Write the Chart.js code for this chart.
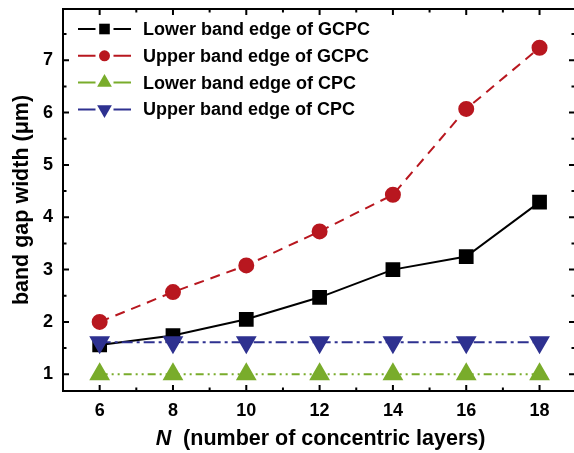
<!DOCTYPE html>
<html>
<head>
<meta charset="utf-8">
<script src="https://cdn.jsdelivr.net/npm/chart.js@4.4.1/dist/chart.umd.min.js"></script>
<style>
html, body { margin: 0; padding: 0; background: #fff; }
</style>
</head>
<body>
<canvas id="gapChart" width="574" height="453"></canvas>
<script>
// data
var layers = [6, 8, 10, 12, 14, 16, 18];
var lowerGCPC = [1.56, 1.74, 2.05, 2.47, 3.00, 3.25, 4.29];
var upperGCPC = [2.00, 2.57, 3.08, 3.73, 4.43, 6.07, 7.24];
var lowerCPC = [1.00, 1.00, 1.00, 1.00, 1.00, 1.00, 1.00];
var upperCPC = [1.61, 1.61, 1.61, 1.61, 1.61, 1.61, 1.61];
var seriesNames = ['Lower band edge of GCPC', 'Upper band edge of GCPC', 'Lower band edge of CPC', 'Upper band edge of CPC'];
var xTicks = [6, 8, 10, 12, 14, 16, 18];
var yTicks = [1, 2, 3, 4, 5, 6, 7];

var FONT = '"Liberation Sans", Arial, Helvetica, sans-serif';

function points(ys) {
    return layers.map(function(x, i) { return { x: x, y: ys[i] }; });
}

function minorValues(major, lo, hi) {
    var step = major[1] - major[0];
    var out = [];
    for (var v = major[0] - step / 2; v <= hi; v += step) {
        if (v >= lo) out.push(v);
    }
    return out;
}

var frameAndTicks = {
    id: 'frameAndTicks',
    beforeDatasetsDraw: function(chart) {
        var ctx = chart.ctx, a = chart.chartArea;
        var xs = chart.scales.x, ys = chart.scales.y;
        ctx.save();
        ctx.strokeStyle = '#000';
        ctx.lineWidth = 2;
        // frame: the right edge of the original is cut off by the image border
        ctx.beginPath();
        ctx.moveTo(a.right + 4, a.top);
        ctx.lineTo(a.left, a.top);
        ctx.lineTo(a.left, a.bottom);
        ctx.lineTo(a.right + 4, a.bottom);
        ctx.stroke();

        function tickX(v, len) {
            var px = xs.getPixelForValue(v);
            ctx.beginPath();
            ctx.moveTo(px, a.bottom); ctx.lineTo(px, a.bottom - len);
            ctx.moveTo(px, a.top); ctx.lineTo(px, a.top + len);
            ctx.stroke();
        }
        function tickY(v, len) {
            var py = ys.getPixelForValue(v);
            ctx.beginPath();
            ctx.moveTo(a.left, py); ctx.lineTo(a.left + len, py);
            ctx.moveTo(a.right + 1, py); ctx.lineTo(a.right + 1 - len, py);
            ctx.stroke();
        }
        xTicks.forEach(function(v) { tickX(v, 6); });
        minorValues(xTicks, xs.min + 0.1, xs.max - 0.1).forEach(function(v) { tickX(v, 3.5); });
        yTicks.forEach(function(v) { tickY(v, 6); });
        minorValues(yTicks, ys.min + 0.05, ys.max - 0.05).forEach(function(v) { tickY(v, 3.5); });

        // x axis title with italic N
        var cx = (a.left + a.right) / 2 + 2, ty = 439;
        var f1 = 'italic bold 21.5px ' + FONT, f2 = 'bold 21.5px ' + FONT;
        var rest = '  (number of concentric layers)';
        ctx.font = f1; var w1 = ctx.measureText('N').width;
        ctx.font = f2; var w2 = ctx.measureText(rest).width;
        var sx = cx - (w1 + w2) / 2;
        ctx.fillStyle = '#000';
        ctx.textBaseline = 'middle';
        ctx.textAlign = 'left';
        ctx.font = f1; ctx.fillText('N', sx, ty);
        ctx.font = f2; ctx.fillText(rest, sx + w1, ty);
        ctx.restore();
    },
    afterDatasetsDraw: function(chart) {
        // legend: line - marker - line, then text
        var ctx = chart.ctx;
        ctx.save();
        chart.data.datasets.forEach(function(ds, i) {
            var y = 29 + i * 26.8;
            var x0 = 78, x1 = 131, xm = 104.5;
            ctx.strokeStyle = ds.borderColor;
            ctx.lineWidth = 2;
            ctx.setLineDash([]);
            ctx.beginPath();
            ctx.moveTo(x0, y); ctx.lineTo(xm - 9, y);
            ctx.moveTo(xm + 9, y); ctx.lineTo(x1, y);
            ctx.stroke();
            ctx.fillStyle = ds.pointBackgroundColor;
            ctx.strokeStyle = ds.pointBackgroundColor;
            Chart.helpers.drawPoint(ctx, {
                pointStyle: ds.pointStyle,
                rotation: ds.pointRotation || 0,
                radius: ds.pointRadius - 1.5,
                borderWidth: 0
            }, xm, y);
            ctx.fillStyle = '#000';
            ctx.font = 'bold 18px ' + FONT;
            ctx.textBaseline = 'middle';
            ctx.fillText(ds.label, 143, y + 1);
        });
        ctx.restore();
    }
};

function noPadding(scale) {
    scale.paddingTop = 0;
    scale.paddingBottom = 0;
    scale.paddingLeft = 0;
    scale.paddingRight = 0;
}

var ctx = document.getElementById('gapChart').getContext('2d');
var gapChart = new Chart(ctx, {
    type: 'line',
    data: {
        datasets: [{
            label: seriesNames[0],
            data: points(lowerGCPC),
            borderColor: '#000000',
            pointBackgroundColor: '#000000',
            pointBorderColor: '#000000',
            borderWidth: 2,
            pointStyle: 'rect',
            pointRadius: 9,
            order: 4
        }, {
            label: seriesNames[1],
            data: points(upperGCPC),
            borderColor: '#b8171f',
            pointBackgroundColor: '#b8171f',
            pointBorderColor: '#b8171f',
            borderWidth: 2,
            borderDash: [10, 7],
            pointStyle: 'circle',
            pointRadius: 7,
            order: 3
        }, {
            label: seriesNames[2],
            data: points(lowerCPC),
            borderColor: '#79ac2b',
            pointBackgroundColor: '#79ac2b',
            pointBorderColor: '#79ac2b',
            borderWidth: 2,
            borderDash: [8, 4, 2, 4, 2, 4],
            pointStyle: 'triangle',
            pointRadius: 10,
            order: 2
        }, {
            label: seriesNames[3],
            data: points(upperCPC),
            borderColor: '#2e3190',
            pointBackgroundColor: '#2e3190',
            pointBorderColor: '#2e3190',
            borderWidth: 2,
            borderDash: [11, 4, 3, 4],
            pointStyle: 'triangle',
            pointRotation: 180,
            pointRadius: 10,
            order: 1
        }]
    },
    options: {
        responsive: false,
        animation: false,
        layout: { autoPadding: false, padding: { top: 9, right: 0, left: 0, bottom: 0 } },
        plugins: {
            legend: { display: false },
            tooltip: { enabled: false }
        },
        elements: {
            line: { tension: 0 },
            point: { borderWidth: 0 }
        },
        scales: {
            x: {
                type: 'linear',
                min: 5,
                max: 18.94,
                afterBuildTicks: function(scale) {
                    scale.ticks = xTicks.map(function(v) { return { value: v }; });
                },
                afterFit: function(scale) { scale.height = 62; noPadding(scale); },
                grid: { display: false, drawTicks: false },
                border: { display: false },
                ticks: {
                    padding: 9,
                    color: '#000',
                    font: { family: FONT, size: 18, weight: 'bold' }
                }
            },
            y: {
                type: 'linear',
                min: 0.68,
                max: 7.98,
                afterBuildTicks: function(scale) {
                    scale.ticks = yTicks.map(function(v) { return { value: v }; });
                },
                afterFit: function(scale) { scale.width = 63; noPadding(scale); },
                grid: { display: false, drawTicks: false },
                border: { display: false },
                ticks: {
                    padding: 10,
                    color: '#000',
                    font: { family: FONT, size: 18, weight: 'bold' }
                },
                title: {
                    display: true,
                    text: 'band gap width (\u03bcm)',
                    color: '#000',
                    padding: { top: 9, bottom: 0 },
                    font: { family: FONT, size: 21.5, weight: 'bold' }
                }
            }
        }
    },
    plugins: [frameAndTicks]
});
</script>
</body>
</html>
